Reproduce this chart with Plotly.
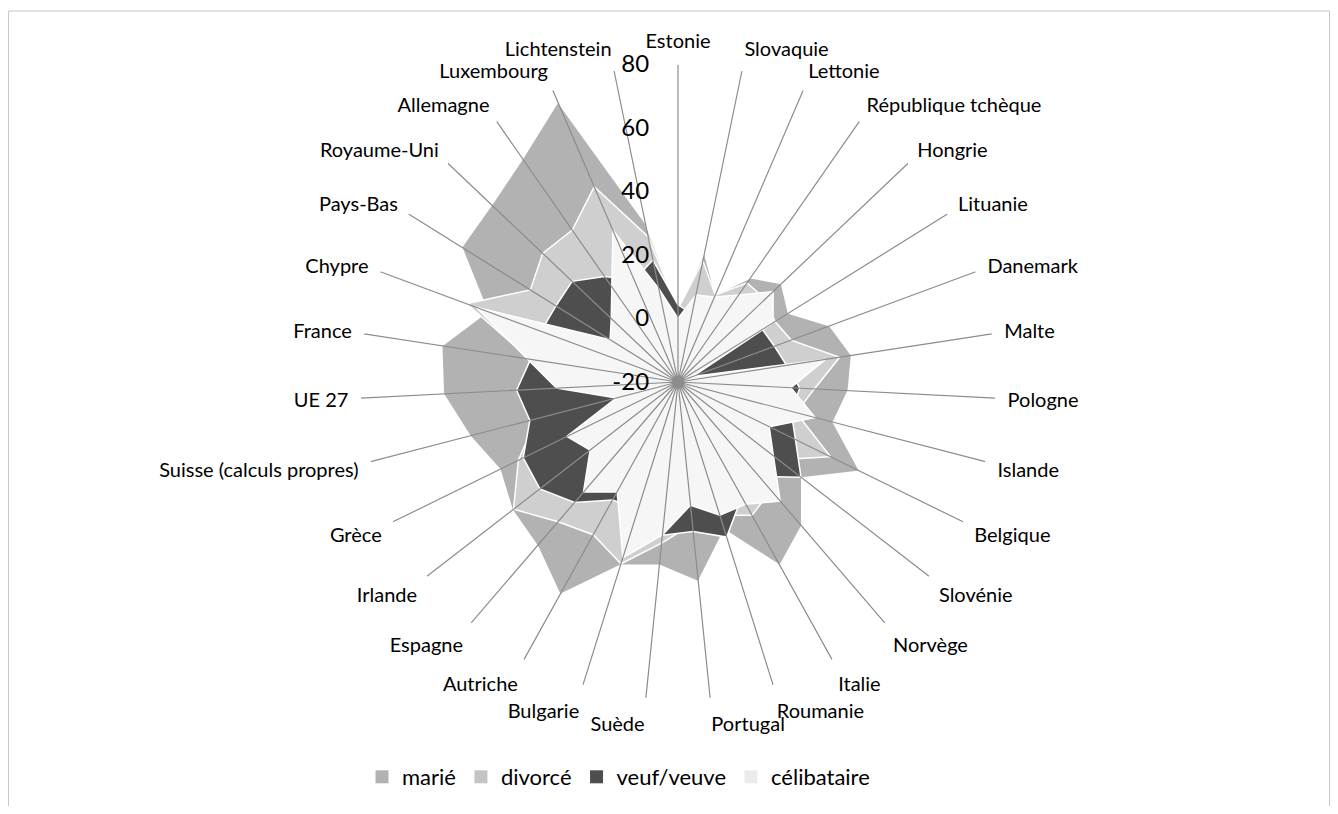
import plotly.graph_objects as go

categories = ["Estonie", "Slovaquie", "Lettonie", "République tchèque", "Hongrie", "Lituanie",
              "Danemark", "Malte", "Pologne", "Islande", "Belgique", "Slovénie", "Norvège",
              "Italie", "Roumanie", "Portugal", "Suède", "Bulgarie", "Autriche", "Espagne",
              "Irlande", "Grèce", "Suisse (calculs propres)", "UE 27", "France", "Chypre",
              "Pays-Bas", "Royaume-Uni", "Allemagne", "Luxembourg", "Lichtenstein"]

marie = [3, 21.5, 10, 20, 25, 21, 31, 35.3, 33.7, 30.5, 43.8, 29.3, 39.8, 46.1, 28.8, 43.2,
         38, 40.5, 56.6, 48, 46, 42.5, 47.7, 54, 55.3, 44, 60.3, 61, 65.7, 76, 31]
divorce = [3, 19, 9.8, 18, 18, 16, 18, 31.5, 23, 18.5, 33.5, 20, 25, 28, 24, 25,
           31, 40, 35, 38, 45.5, 36, 26, 28, 27.2, 51, 34.8, 38.8, 38.3, 46.9, 26.7]
veuf = [4.3, 2, 3, 5, 8, 11.3, 12.4, 14.6, 18.4, 16.8, 21.2, 29, 19.2, 21.4, 31.2, 27.3,
        28.5, 22, 22.5, 30, 35, 34.3, 28.2, 30.9, 27, 26, 25.3, 26, 20.5, 15, 19.2]
celibataire = [0, 8, 9.1, 13.4, 21.3, 15.3, -15, 27, 15.6, 24.6, 12, 18, 29.4, 24, 24, 19,
               28.4, 38, 19.5, 25.7, 15, 19, 0, 18.3, 28, 47.7, 5.2, 9, 16.5, 32, 10]

radial_ticks = [-20, 0, 20, 40, 60, 80]
r_min, r_max = radial_ticks[0], radial_ticks[-1]

# the page body adds an 8 px margin, so the figure is laid out in its own pixels
W, H = 1322, 798

series = [
    ("marié", marie, "#b2b2b2", "#b2b2b2"),
    ("divorcé", divorce, "#cfcfcf", "#c4c4c4"),
    ("veuf/veuve", veuf, "#4e4e4e", "#4e4e4e"),
    ("célibataire", celibataire, "#f6f6f6", "#ebebeb"),
]

fig = go.Figure()
for name, vals, color, _ in series:
    fig.add_trace(go.Scatterpolar(
        r=vals + vals[:1],
        theta=categories + categories[:1],
        mode="lines",
        fill="toself",
        fillcolor=color,
        line=dict(color="white", width=1.5),
        name=name,
        showlegend=False,
        hoverinfo="skip",
    ))

# category spokes drawn over the filled areas
spoke_r, spoke_theta = [], []
for c in categories:
    spoke_r += [r_min, r_max, r_min]
    spoke_theta += [c, c, c]
fig.add_trace(go.Scatterpolar(
    r=spoke_r, theta=spoke_theta, mode="lines",
    line=dict(color="#8c8c8c", width=1.2),
    showlegend=False, hoverinfo="skip",
))

# square legend swatches
for name, _, _, swatch in series:
    fig.add_trace(go.Scatterpolar(
        r=[None], theta=[categories[0]], mode="markers", name=name,
        marker=dict(symbol="square", size=13, color=swatch),
        hoverinfo="skip",
    ))

fig.update_layout(
    width=W, height=H,
    margin=dict(l=0, r=0, t=0, b=0),
    paper_bgcolor="white",
    font=dict(family="Lato, Roboto, sans-serif", size=20, color="black"),
    polar=dict(
        domain=dict(x=[352.5 / W, 987.5 / W], y=[1 - 691.5 / H, 1 - 56.5 / H]),
        bgcolor="white",
        radialaxis=dict(
            range=[r_min, r_max], tickvals=radial_ticks,
            ticktext=[str(t) for t in radial_ticks],
            showgrid=False, showline=False,
            ticks="outside", ticklen=20, tickcolor="rgba(0,0,0,0)",
            side="counterclockwise", angle=90, tickangle=90,
            tickfont=dict(size=24, color="black"),
        ),
        angularaxis=dict(
            direction="clockwise", rotation=90, showgrid=False, showline=False,
            ticks="outside", ticklen=8, tickcolor="rgba(0,0,0,0)",
            tickfont=dict(size=20, color="black"),
        ),
    ),
    legend=dict(
        orientation="h", x=354 / W, xanchor="left", y=1 - 769 / H, yanchor="middle",
        font=dict(size=22), traceorder="normal", itemwidth=30,
    ),
    shapes=[dict(type="rect", xref="paper", yref="paper",
                 x0=0.5 / W, x1=1 - 0.5 / W, y0=-0.02, y1=1 - 3 / H,
                 line=dict(color="#c8c8c8", width=1))],
)

fig.write_html("out.html")
